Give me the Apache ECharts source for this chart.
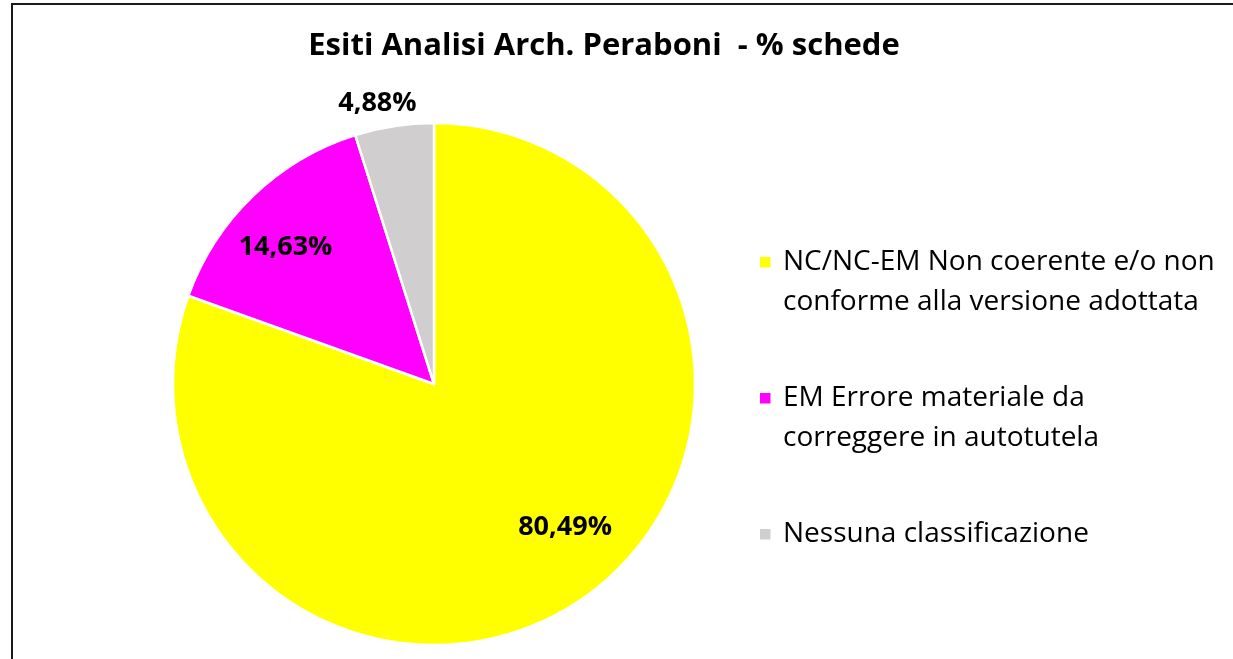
<!DOCTYPE html>
<html lang="it">
<head>
    <meta charset="UTF-8">
    <title>Esiti Analisi Arch. Peraboni - % schede</title>
    <style>
        html, body {
            margin: 0;
            padding: 0;
            background: #fff;
        }
        #chart {
            width: 1233px;
            height: 659px;
        }
    </style>
    <script src="https://cdn.jsdelivr.net/npm/echarts@6/dist/echarts.min.js"></script>
</head>
<body>
<div id="chart"></div>
<script>
// dati del grafico (numero di schede per esito)
const titolo = 'Esiti Analisi Arch. Peraboni  - % schede';
const categorie = [
    'NC/NC-EM Non coerente e/o non\nconforme alla versione adottata',
    'EM Errore materiale da\ncorreggere in autotutela',
    'Nessuna classificazione'
];
const valori = [33, 6, 2];
const colori = ['#ffff00', '#ff00ff', '#d0cece'];

// posizione etichette: [distanza in raggi, rotazione in gradi]
const posEtichetta = [[0.743, -7.4], [0.774, -3.4], [1.098, -2.6]];

const font = '"Open Sans", Lato, sans-serif';
const centro = [434, 384];
const raggio = 261;

// icona legenda: quadrato allineato alla prima riga del testo
const iconaLegenda = 'path://M0,0M19,52M0,0h12.5v12.5h-12.5z';

const chart = echarts.init(document.getElementById('chart'));

const formatPerc = p => p.toFixed(2).replace('.', ',') + '%';

chart.setOption({
    animation: false,
    backgroundColor: '#fff',
    title: {
        text: titolo,
        left: 599,
        top: 26,
        textAlign: 'center',
        textStyle: {
            fontFamily: font,
            fontWeight: 'bold',
            fontSize: 31,
            color: '#000'
        }
    },
    legend: {
        orient: 'vertical',
        left: 753,
        top: 237,
        itemWidth: 19,
        itemHeight: 52,
        itemGap: 56,
        icon: iconaLegenda,
        selectedMode: false,
        data: categorie,
        // ogni voce su due righe, così i quadrati restano sulla prima
        formatter: name => name.indexOf('\n') >= 0 ? name : name + '\n ',
        textStyle: {
            fontFamily: font,
            fontSize: 28,
            lineHeight: 40,
            color: '#000'
        }
    },
    graphic: [{
        type: 'rect',
        shape: { x: 12, y: 4, width: 1240, height: 680 },
        style: { fill: 'none', stroke: '#1a1a1a', lineWidth: 2 },
        silent: true
    }],
    series: [{
        type: 'pie',
        center: centro,
        radius: raggio,
        startAngle: 90,
        clockwise: true,
        data: categorie.map((c, i) => ({
            name: c,
            value: valori[i],
            itemStyle: { color: colori[i] }
        })),
        itemStyle: {
            borderColor: '#fff',
            borderWidth: 2.5
        },
        label: {
            show: true,
            position: 'inside',
            formatter: p => formatPerc(p.percent),
            fontFamily: font,
            fontWeight: 'bold',
            fontSize: 27,
            color: '#000'
        },
        labelLine: { show: false },
        // sposta le etichette come nel grafico originale
        labelLayout: params => {
            const r = params.labelRect;
            const x0 = r.x + r.width / 2;
            const y0 = r.y + r.height / 2;
            const ang = Math.atan2(y0 - centro[1], x0 - centro[0]);
            const p = posEtichetta[params.dataIndex];
            const a = ang + p[1] * Math.PI / 180;
            const x1 = centro[0] + Math.cos(a) * p[0] * raggio;
            const y1 = centro[1] + Math.sin(a) * p[0] * raggio;
            return { dx: x1 - x0, dy: y1 - y0 };
        },
        emphasis: { disabled: true }
    }]
});
</script>
</body>
</html>
